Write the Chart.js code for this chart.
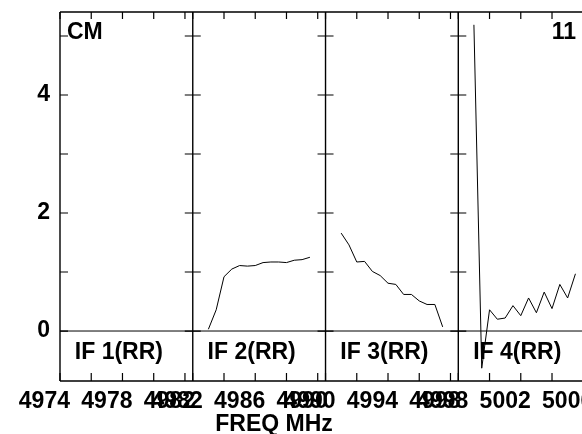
<!DOCTYPE html>
<html>
<head>
<meta charset="utf-8">
<script src="https://cdn.jsdelivr.net/npm/chart.js@4.4.1/dist/chart.umd.min.js"></script>
<style>
  html, body { margin: 0; padding: 0; background: #fff; }
  #wrap { width: 582px; height: 434px; position: relative; }
</style>
</head>
<body>
<div id="wrap"><canvas id="possm"></canvas></div>
<script>
// POSSM-style amplitude plot, 4 IF panels side by side

const PANEL_SPAN = 8.5;                       // MHz shown per panel
const panelStartFreq = [4974, 4982, 4990, 4998];
const panelNames = ['IF 1(RR)', 'IF 2(RR)', 'IF 3(RR)', 'IF 4(RR)'];

const if1Freq = [];
const if1Amp = [];
const if2Freq = [4983.0, 4983.5, 4984.0, 4984.5, 4985.0, 4985.5, 4986.0, 4986.5, 4987.0, 4987.5, 4988.0, 4988.5, 4989.0, 4989.5];
const if2Amp = [0.03, 0.36, 0.92, 1.05, 1.11, 1.10, 1.11, 1.16, 1.17, 1.17, 1.16, 1.20, 1.21, 1.25];
const if3Freq = [4991.0, 4991.5, 4992.0, 4992.5, 4993.0, 4993.5, 4994.0, 4994.5, 4995.0, 4995.5, 4996.0, 4996.5, 4997.0, 4997.5];
const if3Amp = [1.66, 1.46, 1.17, 1.18, 1.01, 0.94, 0.81, 0.79, 0.62, 0.62, 0.51, 0.45, 0.45, 0.07];
const if4Freq = [4999.0, 4999.5, 5000.0, 5000.5, 5001.0, 5001.5, 5002.0, 5002.5, 5003.0, 5003.5, 5004.0, 5004.5, 5005.0, 5005.5];
const if4Amp = [5.19, -0.63, 0.36, 0.20, 0.22, 0.43, 0.26, 0.56, 0.31, 0.66, 0.38, 0.79, 0.56, 0.97];

const freqTickOffsets = [0, 2, 4, 6, 8];      // tick marks every 2 MHz inside a panel
const freqLabelOffsets = [0, 4, 8];           // labelled every 4 MHz
const yTicks = [0, 1, 2, 3, 4, 5];
const yLabels = [0, 2, 4];

const FONT = 'bold 23px "Liberation Sans", Arial, sans-serif';

// panel frequency -> position on the shared x axis
function panelX(k, f) {
    return k * PANEL_SPAN + (f - panelStartFreq[k]);
}

const series = [
    [if1Freq, if1Amp], [if2Freq, if2Amp], [if3Freq, if3Amp], [if4Freq, if4Amp]
];

const datasets = series.map(([fr, amp], k) => ({
    label: panelNames[k],
    data: fr.map((f, i) => ({ x: panelX(k, f), y: amp[i] })),
    borderColor: '#000',
    borderWidth: 1,
    pointRadius: 0,
    tension: 0,
    fill: false
}));

const xTicks = [];
panelStartFreq.forEach((start, k) => {
    freqTickOffsets.forEach(off => {
        xTicks.push({
            value: panelX(k, start + off),
            label: freqLabelOffsets.includes(off) ? String(start + off) : ''
        });
    });
});

// frame, panel dividers, inward tick marks and the text labels
const framePlugin = {
    id: 'frame',
    afterDatasetsDraw(chart) {
        const { ctx, chartArea: a, scales: { x, y } } = chart;
        ctx.save();
        ctx.strokeStyle = '#000';
        ctx.lineWidth = 1.4;

        ctx.beginPath();
        ctx.moveTo(a.left, a.top); ctx.lineTo(a.right, a.top);
        ctx.moveTo(a.left, a.bottom); ctx.lineTo(a.right, a.bottom);
        for (let k = 0; k < panelStartFreq.length; k++) {
            const px = x.getPixelForValue(k * PANEL_SPAN);
            ctx.moveTo(px, a.top); ctx.lineTo(px, a.bottom);
        }
        ctx.stroke();

        // zero line
        ctx.lineWidth = 1;
        ctx.beginPath();
        const y0 = y.getPixelForValue(0);
        ctx.moveTo(a.left, y0); ctx.lineTo(a.right, y0);
        ctx.stroke();

        // x ticks, top and bottom, pointing inward
        ctx.lineWidth = 1.2;
        ctx.beginPath();
        xTicks.forEach(t => {
            const px = x.getPixelForValue(t.value);
            ctx.moveTo(px, a.top); ctx.lineTo(px, a.top + 7);
            ctx.moveTo(px, a.bottom); ctx.lineTo(px, a.bottom - 8);
        });
        // y ticks across each panel edge
        for (let k = 0; k < panelStartFreq.length; k++) {
            const px = x.getPixelForValue(k * PANEL_SPAN);
            yTicks.forEach(v => {
                const py = y.getPixelForValue(v);
                ctx.moveTo(k === 0 ? px : px - 8, py);
                ctx.lineTo(px + 8, py);
            });
        }
        ctx.stroke();

        ctx.fillStyle = '#000';
        ctx.font = FONT;
        ctx.textBaseline = 'alphabetic';
        ctx.textAlign = 'left';
        panelNames.forEach((name, k) => {
            ctx.fillText(name, x.getPixelForValue(k * PANEL_SPAN + 0.95), 359);
        });
        ctx.fillText('CM', 67, 39);
        ctx.textAlign = 'right';
        ctx.fillText('11', 576, 39);
        ctx.textAlign = 'center';
        ctx.fillText('FREQ MHz', 274, 431);
        ctx.restore();
    }
};

new Chart(document.getElementById('possm'), {
    type: 'line',
    data: { datasets },
    plugins: [framePlugin],
    options: {
        responsive: true,
        maintainAspectRatio: false,
        animation: false,
        layout: { padding: { top: 12, left: 0, right: 0, bottom: 0 } },
        plugins: { legend: { display: false }, tooltip: { enabled: false } },
        scales: {
            x: {
                type: 'linear',
                min: 0,
                max: 33.42,
                grid: { display: false, drawTicks: false },
                border: { display: false },
                afterBuildTicks: s => { s.ticks = xTicks.map(t => ({ value: t.value })); },
                afterFit: s => { s.height = 53; s.paddingLeft = 0; s.paddingRight = 0; },
                ticks: {
                    autoSkip: false,
                    maxRotation: 0,
                    minRotation: 0,
                    padding: 7,
                    labelOffset: -15.6,
                    color: '#000',
                    font: { family: '"Liberation Sans", Arial, sans-serif', size: 23, weight: 'bold' },
                    callback: (v, i) => xTicks[i] ? xTicks[i].label : ''
                }
            },
            y: {
                min: -0.847,
                max: 5.407,
                grid: { display: false, drawTicks: false },
                border: { display: false },
                afterBuildTicks: s => { s.ticks = yTicks.map(v => ({ value: v })); },
                afterFit: s => { s.width = 60; s.paddingTop = 0; s.paddingBottom = 0; },
                ticks: {
                    padding: 10,
                    color: '#000',
                    font: { family: '"Liberation Sans", Arial, sans-serif', size: 23, weight: 'bold' },
                    callback: v => yLabels.includes(v) ? String(v) : ''
                }
            }
        }
    }
});
</script>
</body>
</html>
